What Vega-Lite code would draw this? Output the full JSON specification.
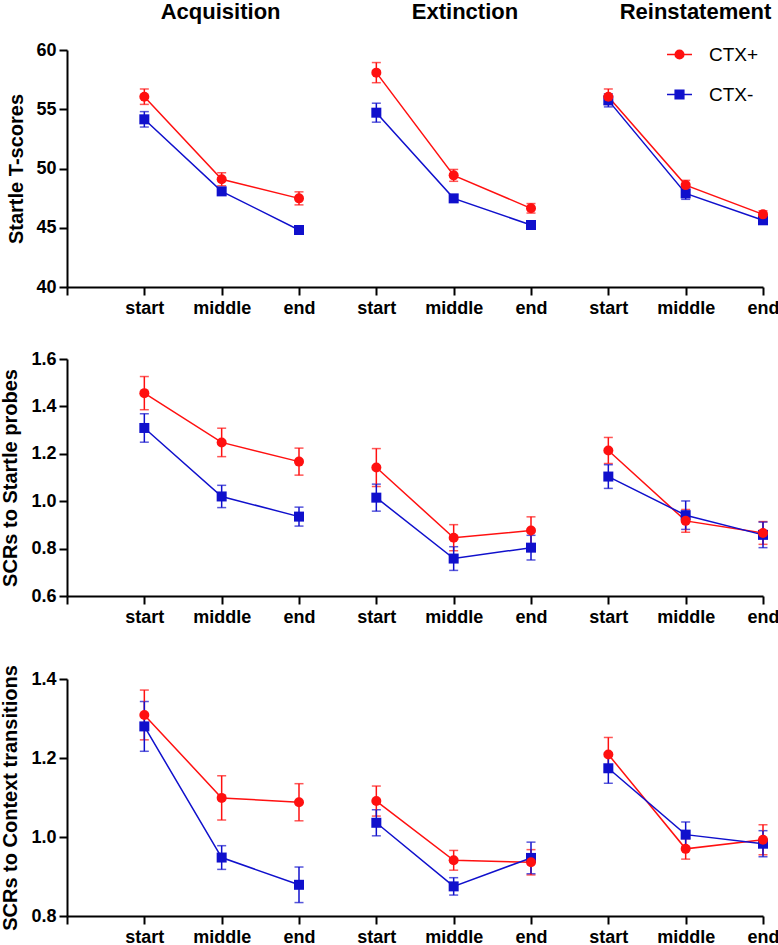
{
  "$schema": "https://vega.github.io/schema/vega-lite/v6.json",
  "padding": {"left": 0, "top": 0, "right": 0, "bottom": 0},
  "background": "white",
  "config": {
    "view": {"stroke": null},
    "axis": {"grid": false, "domainColor": "black", "domainWidth": 2, "tickColor": "black", "tickWidth": 2, "tickSize": 8,
      "labelFont": "Liberation Sans", "labelFontWeight": "bold", "labelFontSize": 18, "labelColor": "black",
      "titleFont": "Liberation Sans", "titleFontWeight": "bold", "titleFontSize": 20, "titleColor": "black",
      "labelFlush": false, "labelOverlap": false, "labelBound": false}
  },
  "datasets": {
    "d": [
      {"p": 1, "ph": "Acq", "pos": 1, "g": "CTX+", "m": 56.06, "lo": 55.41, "hi": 56.71},
      {"p": 1, "ph": "Acq", "pos": 2, "g": "CTX+", "m": 49.09, "lo": 48.54, "hi": 49.64},
      {"p": 1, "ph": "Acq", "pos": 3, "g": "CTX+", "m": 47.48, "lo": 46.93, "hi": 48.03},
      {"p": 1, "ph": "Acq", "pos": 1, "g": "CTX-", "m": 54.15, "lo": 53.5, "hi": 54.8},
      {"p": 1, "ph": "Acq", "pos": 2, "g": "CTX-", "m": 48.07, "lo": 47.77, "hi": 48.37},
      {"p": 1, "ph": "Acq", "pos": 3, "g": "CTX-", "m": 44.81, "lo": 44.51, "hi": 45.11},
      {"p": 1, "ph": "Ext", "pos": 4, "g": "CTX+", "m": 58.09, "lo": 57.24, "hi": 58.94},
      {"p": 1, "ph": "Ext", "pos": 5, "g": "CTX+", "m": 49.42, "lo": 48.92, "hi": 49.92},
      {"p": 1, "ph": "Ext", "pos": 6, "g": "CTX+", "m": 46.64, "lo": 46.24, "hi": 47.04},
      {"p": 1, "ph": "Ext", "pos": 4, "g": "CTX-", "m": 54.71, "lo": 53.91, "hi": 55.51},
      {"p": 1, "ph": "Ext", "pos": 5, "g": "CTX-", "m": 47.48, "lo": 47.18, "hi": 47.78},
      {"p": 1, "ph": "Ext", "pos": 6, "g": "CTX-", "m": 45.23, "lo": 44.93, "hi": 45.53},
      {"p": 1, "ph": "Rein", "pos": 7, "g": "CTX+", "m": 56.06, "lo": 55.41, "hi": 56.71},
      {"p": 1, "ph": "Rein", "pos": 8, "g": "CTX+", "m": 48.6, "lo": 48.2, "hi": 49.0},
      {"p": 1, "ph": "Rein", "pos": 9, "g": "CTX+", "m": 46.13, "lo": 45.83, "hi": 46.43},
      {"p": 1, "ph": "Rein", "pos": 7, "g": "CTX-", "m": 55.75, "lo": 55.2, "hi": 56.3},
      {"p": 1, "ph": "Rein", "pos": 8, "g": "CTX-", "m": 47.9, "lo": 47.4, "hi": 48.4},
      {"p": 1, "ph": "Rein", "pos": 9, "g": "CTX-", "m": 45.63, "lo": 45.33, "hi": 45.93},

      {"p": 2, "ph": "Acq", "pos": 1, "g": "CTX+", "m": 1.456, "lo": 1.386, "hi": 1.526},
      {"p": 2, "ph": "Acq", "pos": 2, "g": "CTX+", "m": 1.248, "lo": 1.188, "hi": 1.308},
      {"p": 2, "ph": "Acq", "pos": 3, "g": "CTX+", "m": 1.167, "lo": 1.11, "hi": 1.224},
      {"p": 2, "ph": "Acq", "pos": 1, "g": "CTX-", "m": 1.309, "lo": 1.249, "hi": 1.369},
      {"p": 2, "ph": "Acq", "pos": 2, "g": "CTX-", "m": 1.02, "lo": 0.973, "hi": 1.067},
      {"p": 2, "ph": "Acq", "pos": 3, "g": "CTX-", "m": 0.935, "lo": 0.895, "hi": 0.975},
      {"p": 2, "ph": "Ext", "pos": 4, "g": "CTX+", "m": 1.142, "lo": 1.062, "hi": 1.222},
      {"p": 2, "ph": "Ext", "pos": 5, "g": "CTX+", "m": 0.846, "lo": 0.791, "hi": 0.901},
      {"p": 2, "ph": "Ext", "pos": 6, "g": "CTX+", "m": 0.876, "lo": 0.818, "hi": 0.934},
      {"p": 2, "ph": "Ext", "pos": 4, "g": "CTX-", "m": 1.015, "lo": 0.958, "hi": 1.072},
      {"p": 2, "ph": "Ext", "pos": 5, "g": "CTX-", "m": 0.758, "lo": 0.708, "hi": 0.808},
      {"p": 2, "ph": "Ext", "pos": 6, "g": "CTX-", "m": 0.804, "lo": 0.752, "hi": 0.856},
      {"p": 2, "ph": "Rein", "pos": 7, "g": "CTX+", "m": 1.214, "lo": 1.159, "hi": 1.269},
      {"p": 2, "ph": "Rein", "pos": 8, "g": "CTX+", "m": 0.917, "lo": 0.869, "hi": 0.965},
      {"p": 2, "ph": "Rein", "pos": 9, "g": "CTX+", "m": 0.866, "lo": 0.818, "hi": 0.914},
      {"p": 2, "ph": "Rein", "pos": 7, "g": "CTX-", "m": 1.104, "lo": 1.054, "hi": 1.154},
      {"p": 2, "ph": "Rein", "pos": 8, "g": "CTX-", "m": 0.941, "lo": 0.881, "hi": 1.001},
      {"p": 2, "ph": "Rein", "pos": 9, "g": "CTX-", "m": 0.858, "lo": 0.804, "hi": 0.912},

      {"p": 3, "ph": "Acq", "pos": 1, "g": "CTX+", "m": 1.309, "lo": 1.246, "hi": 1.372},
      {"p": 3, "ph": "Acq", "pos": 2, "g": "CTX+", "m": 1.099, "lo": 1.043, "hi": 1.155},
      {"p": 3, "ph": "Acq", "pos": 3, "g": "CTX+", "m": 1.088, "lo": 1.041, "hi": 1.135},
      {"p": 3, "ph": "Acq", "pos": 1, "g": "CTX-", "m": 1.28, "lo": 1.217, "hi": 1.343},
      {"p": 3, "ph": "Acq", "pos": 2, "g": "CTX-", "m": 0.948, "lo": 0.918, "hi": 0.978},
      {"p": 3, "ph": "Acq", "pos": 3, "g": "CTX-", "m": 0.879, "lo": 0.834, "hi": 0.924},
      {"p": 3, "ph": "Ext", "pos": 4, "g": "CTX+", "m": 1.091, "lo": 1.053, "hi": 1.129},
      {"p": 3, "ph": "Ext", "pos": 5, "g": "CTX+", "m": 0.941, "lo": 0.916, "hi": 0.966},
      {"p": 3, "ph": "Ext", "pos": 6, "g": "CTX+", "m": 0.936, "lo": 0.904, "hi": 0.968},
      {"p": 3, "ph": "Ext", "pos": 4, "g": "CTX-", "m": 1.036, "lo": 1.003, "hi": 1.069},
      {"p": 3, "ph": "Ext", "pos": 5, "g": "CTX-", "m": 0.875, "lo": 0.853, "hi": 0.897},
      {"p": 3, "ph": "Ext", "pos": 6, "g": "CTX-", "m": 0.947, "lo": 0.907, "hi": 0.987},
      {"p": 3, "ph": "Rein", "pos": 7, "g": "CTX+", "m": 1.209, "lo": 1.166, "hi": 1.252},
      {"p": 3, "ph": "Rein", "pos": 8, "g": "CTX+", "m": 0.97, "lo": 0.944, "hi": 0.996},
      {"p": 3, "ph": "Rein", "pos": 9, "g": "CTX+", "m": 0.993, "lo": 0.955, "hi": 1.031},
      {"p": 3, "ph": "Rein", "pos": 7, "g": "CTX-", "m": 1.174, "lo": 1.136, "hi": 1.212},
      {"p": 3, "ph": "Rein", "pos": 8, "g": "CTX-", "m": 1.006, "lo": 0.974, "hi": 1.038},
      {"p": 3, "ph": "Rein", "pos": 9, "g": "CTX-", "m": 0.983, "lo": 0.95, "hi": 1.016}
    ]
  },
  "resolve": {"scale": {"color": "independent"}},
  "spacing": 33,
  "vconcat": [
    {
      "width": 696, "height": 237,
      "data": {"name": "d"},
      "transform": [{"filter": "datum.p === 1"}],
      "resolve": {"axis": {"x": "independent", "y": "independent"}},
      "layer": [
        {
          "mark": {"type": "line", "strokeWidth": 1.5},
          "encoding": {
            "x": {"field": "pos", "type": "quantitative", "scale": {"domain": [0, 9], "nice": false, "zero": false},
              "axis": {"values": [0,1,2,3,4,5,6,7,8,9], "labelExpr": "['','start','middle','end','start','middle','end','start','middle','end'][datum.value]", "title": null, "labelPadding": 4}},
            "y": {"field": "m", "type": "quantitative", "scale": {"domain": [40, 60], "nice": false, "zero": false},
              "axis": {"values": [40,45,50,55,60], "title": "Startle  T-scores", "titlePadding": 9, "labelPadding": 3}},
            "color": {"field": "g", "type": "nominal", "scale": {"domain": ["CTX+", "CTX-"], "range": ["#ff1010", "#1010cc"]},
              "legend": {"title": null, "orient": "none", "legendX": 602, "legendY": -6, "padding": 0, "symbolSize": 369, "rowPadding": 19, "labelOffset": 19,
                "labelFont": "Liberation Sans", "labelFontSize": 19, "labelColor": "black", "symbolOpacity": 1, "symbolStrokeWidth": 1.5,
                "encode": {"symbols": {"update": {
                  "shape": {"signal": "datum.value === 'CTX+' ? 'M-1.3,0H1.3M-0.45,0A0.45,0.45,0,1,0,0.45,0A0.45,0.45,0,1,0,-0.45,0Z' : 'M-1.3,0H1.3M-0.45,-0.45H0.45V0.45H-0.45Z'"},
                  "stroke": {"signal": "datum.value === 'CTX+' ? '#ff1010' : '#1010cc'"},
                  "strokeWidth": {"value": 1.5}
                }}}}},
            "detail": {"field": "ph", "type": "nominal"}
          }
        },
        {
          "mark": {"type": "errorbar", "thickness": 1.5, "ticks": {"size": 9}},
          "encoding": {
            "x": {"field": "pos", "type": "quantitative", "axis": null},
            "y": {"field": "lo", "type": "quantitative", "axis": null},
            "y2": {"field": "hi"},
            "color": {"field": "g", "type": "nominal"}
          }
        },
        {
          "transform": [{"filter": "datum.g === 'CTX-'"}],
          "mark": {"type": "point", "filled": true, "opacity": 1, "size": 100, "shape": "square"},
          "encoding": {
            "x": {"field": "pos", "type": "quantitative", "axis": null},
            "y": {"field": "m", "type": "quantitative", "axis": null},
            "color": {"field": "g", "type": "nominal"}
          }
        },
        {
          "transform": [{"filter": "datum.g === 'CTX+'"}],
          "mark": {"type": "point", "filled": true, "opacity": 1, "size": 100, "shape": "circle"},
          "encoding": {
            "x": {"field": "pos", "type": "quantitative",
              "axis": {"orient": "top", "values": [1.98, 5.14, 8.12], "labelExpr": "datum.value < 3 ? 'Acquisition' : datum.value < 6 ? 'Extinction' : 'Reinstatement'", "domain": false, "ticks": false, "tickSize": 0, "labelFontSize": 22, "labelPadding": 27, "title": null}},
            "y": {"field": "m", "type": "quantitative", "axis": null},
            "color": {"field": "g", "type": "nominal"}
          }
        }
      ]
    },
    {
      "spacing": 38,
      "resolve": {"scale": {"color": "independent"}},
      "vconcat": [
        {
          "width": 696, "height": 237,
          "data": {"name": "d"},
          "transform": [{"filter": "datum.p === 2"}],
          "resolve": {"axis": {"x": "independent", "y": "independent"}},
          "layer": [
            {
              "mark": {"type": "line", "strokeWidth": 1.5},
              "encoding": {
                "x": {"field": "pos", "type": "quantitative", "scale": {"domain": [0, 9], "nice": false, "zero": false},
                  "axis": {"values": [0,1,2,3,4,5,6,7,8,9], "labelExpr": "['','start','middle','end','start','middle','end','start','middle','end'][datum.value]", "title": null, "labelPadding": 4}},
                "y": {"field": "m", "type": "quantitative", "scale": {"domain": [0.6, 1.6], "nice": false, "zero": false},
                  "axis": {"values": [0.6, 0.8, 1.0, 1.2, 1.4, 1.6], "format": ".1f", "title": "SCRs to Startle probes", "titlePadding": 10, "labelPadding": 3}},
                "color": {"field": "g", "type": "nominal", "scale": {"domain": ["CTX+", "CTX-"], "range": ["#ff1010", "#1010cc"]}, "legend": null},
                "detail": {"field": "ph", "type": "nominal"}
              }
            },
            {
              "mark": {"type": "errorbar", "thickness": 1.5, "ticks": {"size": 9}},
              "encoding": {
                "x": {"field": "pos", "type": "quantitative", "axis": null},
                "y": {"field": "lo", "type": "quantitative", "axis": null},
                "y2": {"field": "hi"},
                "color": {"field": "g", "type": "nominal", "legend": null}
              }
            },
            {
              "transform": [{"filter": "datum.g === 'CTX-'"}],
              "mark": {"type": "point", "filled": true, "opacity": 1, "size": 100, "shape": "square"},
              "encoding": {
                "x": {"field": "pos", "type": "quantitative", "axis": null},
                "y": {"field": "m", "type": "quantitative", "axis": null},
                "color": {"field": "g", "type": "nominal", "legend": null}
              }
            },
            {
              "transform": [{"filter": "datum.g === 'CTX+'"}],
              "mark": {"type": "point", "filled": true, "opacity": 1, "size": 100, "shape": "circle"},
              "encoding": {
                "x": {"field": "pos", "type": "quantitative", "axis": null},
                "y": {"field": "m", "type": "quantitative", "axis": null},
                "color": {"field": "g", "type": "nominal", "legend": null}
              }
            }
          ]
        },
        {
          "width": 696, "height": 237,
          "data": {"name": "d"},
          "transform": [{"filter": "datum.p === 3"}],
          "resolve": {"axis": {"x": "independent", "y": "independent"}},
          "layer": [
            {
              "mark": {"type": "line", "strokeWidth": 1.5},
              "encoding": {
                "x": {"field": "pos", "type": "quantitative", "scale": {"domain": [0, 9], "nice": false, "zero": false},
                  "axis": {"values": [0,1,2,3,4,5,6,7,8,9], "labelExpr": "['','start','middle','end','start','middle','end','start','middle','end'][datum.value]", "title": null, "labelPadding": 4}},
                "y": {"field": "m", "type": "quantitative", "scale": {"domain": [0.8, 1.4], "nice": false, "zero": false},
                  "axis": {"values": [0.8, 1.0, 1.2, 1.4], "format": ".1f", "title": "SCRs to Context transitions", "titlePadding": 10, "labelPadding": 3}},
                "color": {"field": "g", "type": "nominal", "scale": {"domain": ["CTX+", "CTX-"], "range": ["#ff1010", "#1010cc"]}, "legend": null},
                "detail": {"field": "ph", "type": "nominal"}
              }
            },
            {
              "mark": {"type": "errorbar", "thickness": 1.5, "ticks": {"size": 9}},
              "encoding": {
                "x": {"field": "pos", "type": "quantitative", "axis": null},
                "y": {"field": "lo", "type": "quantitative", "axis": null},
                "y2": {"field": "hi"},
                "color": {"field": "g", "type": "nominal", "legend": null}
              }
            },
            {
              "transform": [{"filter": "datum.g === 'CTX-'"}],
              "mark": {"type": "point", "filled": true, "opacity": 1, "size": 100, "shape": "square"},
              "encoding": {
                "x": {"field": "pos", "type": "quantitative", "axis": null},
                "y": {"field": "m", "type": "quantitative", "axis": null},
                "color": {"field": "g", "type": "nominal", "legend": null}
              }
            },
            {
              "transform": [{"filter": "datum.g === 'CTX+'"}],
              "mark": {"type": "point", "filled": true, "opacity": 1, "size": 100, "shape": "circle"},
              "encoding": {
                "x": {"field": "pos", "type": "quantitative", "axis": null},
                "y": {"field": "m", "type": "quantitative", "axis": null},
                "color": {"field": "g", "type": "nominal", "legend": null}
              }
            }
          ]
        }
      ]
    }
  ]
}
